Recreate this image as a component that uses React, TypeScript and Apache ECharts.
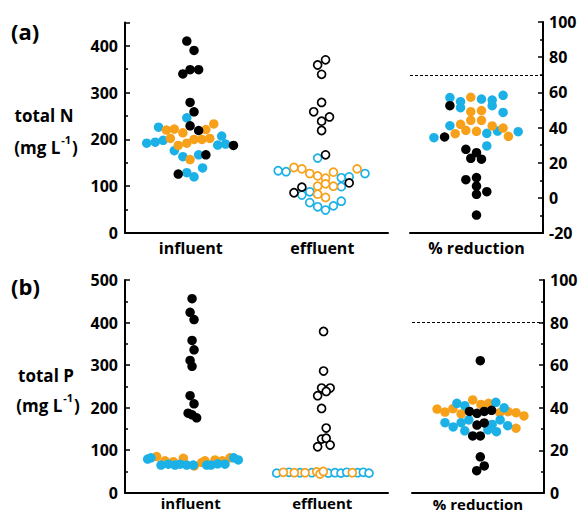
import React, { useEffect, useRef } from "react";
import * as echarts from "echarts";

// ---------- data ----------
// Panel (a): total N (mg/L) and % reduction
const aInfBlack = [410, 390, 340, 349, 349, 279, 259, 229, 219, 187, 167, 126];
const aInfBlackJit = [-0.06, 0.05, -0.12, -0.01, 0.12, -0.01, 0.05, -0.01, 0.12, 0.65, 0.23, -0.19];
const aInfBlue = [246, 226, 192, 194, 198, 207, 188, 190, 176, 163, 167, 129, 139, 120];
const aInfBlueJit = [-0.06, -0.49, -0.67, -0.54, -0.42, 0.47, 0.41, 0.53, -0.25, -0.12, 0.12, -0.06, 0.18, 0.05];
const aInfOrange = [220, 222, 214, 233, 221, 202, 187, 192, 200, 200, 202, 157];
const aInfOrangeJit = [-0.37, -0.25, -0.12, 0.35, 0.23, -0.31, -0.19, -0.06, 0.05, 0.17, 0.29, -0.01];

const aEffBlack = [370, 359, 339, 279, 259, 248, 239, 219, 167, 107, 98, 86];
const aEffBlackJit = [0.05, -0.07, -0.01, -0.01, -0.13, 0.11, -0.01, -0.01, 0.05, 0.41, -0.31, -0.43];
const aEffBlue = [160, 133, 131, 127, 118, 120, 99, 81, 88, 65, 56, 49, 58, 68];
const aEffBlueJit = [-0.07, -0.67, -0.55, 0.65, 0.29, 0.41, 0.29, -0.31, -0.19, -0.19, -0.07, 0.05, 0.17, 0.29];
const aEffOrange = [140, 137, 127, 122, 117, 130, 137, 100, 105, 100, 83, 76];
const aEffOrangeJit = [-0.43, -0.31, -0.19, -0.07, 0.05, 0.17, 0.53, -0.07, 0.05, 0.17, -0.07, 0.05];

const aRedBlue = [57, 54.7, 51.3, 56.2, 55.6, 52.4, 58.3, 48.6, 41, 34.2, 36.7, 38, 37.6, 29.5];
const aRedBlueJit = [-0.4, -0.24, -0.24, 0.075, 0.236, 0.236, 0.4, 0.4, -0.4, -0.64, 0.155, 0.316, 0.627, 0.155];
const aRedOrange = [57.2, 49, 49.6, 44.1, 44.1, 41.8, 40.9, 39.7, 36.5, 38.4, 37.8, 35];
const aRedOrangeJit = [-0.086, -0.086, 0.075, -0.086, 0.075, -0.24, 0.236, 0.4, -0.32, -0.16, 0, 0.48];
const aRedBlack = [52.4, 34.6, 27.6, 25.7, 22.5, 22, 10.3, 11.5, 6.7, 2, 3.5, -9.8];
const aRedBlackJit = [-0.4, -0.48, -0.16, 0, -0.086, 0.075, -0.16, 0, 0, 0, 0.155, 0];

// Panel (b): total P (mg/L) and % reduction
const bInfBlack = [456, 424, 407, 358, 336, 311, 297, 228, 209, 187, 183, 176];
const bInfBlackJit = [0.02, -0.01, 0.05, 0.02, 0.05, -0.01, 0.02, -0.01, 0.05, -0.04, 0.02, 0.09];
const bInfBlue = [79, 82, 65, 67, 65, 67, 65, 65, 65, 65, 68, 67, 82, 77];
const bInfBlueJit = [-0.655, -0.605, -0.452, -0.341, -0.24, -0.163, -0.062, 0.039, 0.243, 0.308, 0.41, 0.521, 0.653, 0.723];
const bInfOrange = [85, 75, 73, 81, 63, 71, 75, 77, 75, 82];
const bInfOrangeJit = [-0.518, -0.392, -0.265, -0.113, 0.054, 0.167, 0.217, 0.369, 0.48, 0.597];

const bEffBlack = [379, 286, 246, 246, 238, 228, 198, 152, 126, 128, 108, 112];
const bEffBlackJit = [0.02, 0.02, -0.01, 0.12, 0.06, -0.07, -0.01, 0.06, -0.01, 0.06, -0.07, 0.12];
const bEffBlue = [46, 48, 47, 47, 46, 47, 46, 48, 47, 48, 46];
const bEffBlueJit = [-0.693, -0.506, -0.338, -0.16, 0.092, 0.194, 0.285, 0.372, 0.539, 0.624, 0.711];
const bEffOrange = [48, 47, 47, 49, 44, 50, 47];
const bEffOrangeJit = [-0.592, -0.425, -0.262, -0.084, -0.034, 0.016, 0.457];

const bRedOrange = [39.4, 38, 39.6, 37.1, 43.7, 41.6, 42.1, 37.7, 38.2, 37.7, 36.2, 30.4];
const bRedOrangeJit = [-0.62, -0.5, -0.38, -0.256, -0.08, 0.045, 0.16, 0.33, 0.456, 0.576, 0.696, 0.576];
const bRedBlue = [42.1, 41, 42.6, 40, 33, 31, 33, 34.3, 29.2, 32.2, 34.3, 29.6, 28.8, 31.6];
const bRedBlueJit = [-0.32, -0.2, 0.27, 0.396, -0.5, -0.376, -0.256, -0.14, -0.2, 0.215, 0.335, 0.15, 0.28, 0.45];
const bRedBlack = [62.1, 38.3, 37.4, 38.3, 38.8, 31.9, 32.9, 26.8, 26.8, 17, 10.5, 12.7];
const bRedBlackJit = [0.035, -0.13, -0.015, 0.095, 0.206, -0.015, 0.095, -0.08, 0.035, 0.035, -0.02, 0.095];

const leftCats = ["influent", "effluent"]; // at x = 1 and x = 3
const rightCat = "% reduction"; // at x = 0
const targetA = 70;
const targetB = 80;

const BLUE = "#1cb1e6";
const ORANGE = "#f7a11a";
const BLACK = "#000000";
const FONT = "Open Sans";

function pts(vals: number[], jit: number[], center: number) {
  return vals.map((v, i) => [center + jit[i], v]);
}

function sc(
  vals: number[],
  jit: number[],
  center: number,
  axis: number,
  color: string,
  filled: boolean,
  extra: any = {}
) {
  return {
    type: "scatter",
    xAxisIndex: axis,
    yAxisIndex: axis,
    data: pts(vals, jit, center),
    symbol: "circle",
    symbolSize: filled ? 9.5 : 8,
    itemStyle: filled
      ? { color, borderWidth: 0, opacity: 1 }
      : { color: "#ffffff", borderColor: color, borderWidth: 1.7, opacity: 1 },
    emphasis: { disabled: true },
    z: 3,
    ...extra,
  };
}

const tickLbl = { color: "#000", fontFamily: FONT, fontWeight: "bold", fontSize: 16 };

function yAx(grid: number, min: number, max: number, interval: number, pos: "left" | "right") {
  return {
    type: "value",
    gridIndex: grid,
    position: pos,
    min,
    max,
    interval,
    axisLine: { show: true, onZero: false, lineStyle: { color: "#000", width: 2 } },
    axisTick: { show: true, inside: true, length: 5, lineStyle: { color: "#000", width: 1.5 } },
    minorTick: { show: true, splitNumber: 2, length: 3, lineStyle: { color: "#000", width: 1.5 } },
    splitLine: { show: false },
    axisLabel: {
      ...tickLbl,
      margin: pos === "left" ? 7 : 6,
      showMaxLabel: max % interval === 0,
      formatter: (v: number) => (v % interval === 0 ? String(v) : ""),
    },
  };
}

function xAx(grid: number, min: number, max: number, labels: Record<string, string>, margin: number, size: number) {
  return {
    type: "value",
    gridIndex: grid,
    min,
    max,
    interval: 1,
    axisLine: { show: true, onZero: false, lineStyle: { color: "#000", width: 2 } },
    axisTick: { show: false },
    splitLine: { show: false },
    axisLabel: {
      ...tickLbl,
      fontSize: size,
      margin,
      lineHeight: size,
      showMinLabel: true,
      showMaxLabel: true,
      formatter: (v: number) => labels[String(v)] || "",
    },
  };
}

export default function App() {
  const ref = useRef<HTMLDivElement>(null);
  useEffect(() => {
    if (!ref.current) return;
    const chart = echarts.init(ref.current, undefined, { renderer: "svg" });
    const dashed = (y: number) => ({
      silent: true,
      symbol: "none",
      label: { show: false },
      lineStyle: { type: [3, 2], color: "#000", width: 1 },
      data: [{ yAxis: y }],
    });
    const leftLabels = { "1": leftCats[0], "3": leftCats[1] };
    const rightLabels = { "0": rightCat };
    const lbl = (text: string, x: number, y: number) => ({
      type: "text",
      x,
      y,
      style: {
        text,
        fill: "#000",
        font: `bold 17px '${FONT}'`,
        align: "center",
        verticalAlign: "middle",
      },
    });
    const unit = (x: number, y: number) => ({
      type: "text",
      x,
      y,
      style: {
        text: "{a|(mg L}{s|-1}{a|)}",
        align: "center",
        verticalAlign: "middle",
        rich: {
          a: { fontFamily: FONT, fontWeight: "bold", fontSize: 17, fill: "#000", lineHeight: 22, verticalAlign: "bottom" },
          s: { fontFamily: FONT, fontWeight: "bold", fontSize: 11, fill: "#000", lineHeight: 22, verticalAlign: "top", padding: [0, 1, 8, 1] },
        },
      },
    });
    const option: any = {
      animation: false,
      backgroundColor: "#ffffff",
      grid: [
        { left: 125, top: 22.4, width: 263, height: 210.6 },
        { left: 410, top: 22, width: 133, height: 211 },
        { left: 125, top: 280, width: 263, height: 212.7 },
        { left: 412, top: 280, width: 132, height: 213 },
      ],
      xAxis: [
        xAx(0, 0, 4, leftLabels, 7, 16),
        xAx(1, -1, 1, rightLabels, 7, 16),
        xAx(2, 0, 4, leftLabels, 3, 15),
        xAx(3, -1, 1, rightLabels, 3, 15),
      ],
      yAxis: [
        yAx(0, 0, 450, 100, "left"),
        yAx(1, -20, 100, 20, "right"),
        yAx(2, 0, 500, 100, "left"),
        yAx(3, 0, 100, 20, "right"),
      ],
      graphic: [
        { type: "text", x: 11, y: 31, style: { text: "(a)", fill: "#000", font: `bold 22px '${FONT}'`, verticalAlign: "middle" } },
        { type: "text", x: 11, y: 286, style: { text: "(b)", fill: "#000", font: `bold 22px '${FONT}'`, verticalAlign: "middle" } },
        lbl("total N", 44, 115),
        unit(46, 145),
        lbl("total P", 46, 375),
        unit(48, 403),
      ],
      series: [
        // (a) influent
        sc(aInfBlue, aInfBlueJit, 1, 0, BLUE, true),
        sc(aInfOrange, aInfOrangeJit, 1, 0, ORANGE, true),
        sc(aInfBlack, aInfBlackJit, 1, 0, BLACK, true),
        // (a) effluent
        sc(aEffBlue, aEffBlueJit, 3, 0, BLUE, false),
        sc(aEffOrange, aEffOrangeJit, 3, 0, ORANGE, false),
        sc(aEffBlack, aEffBlackJit, 3, 0, BLACK, false),
        // (a) % reduction
        sc(aRedBlue, aRedBlueJit, 0, 1, BLUE, true, { markLine: dashed(targetA) }),
        sc(aRedOrange, aRedOrangeJit, 0, 1, ORANGE, true),
        sc(aRedBlack, aRedBlackJit, 0, 1, BLACK, true),
        // (b) influent
        sc(bInfOrange, bInfOrangeJit, 1, 2, ORANGE, true),
        sc(bInfBlue, bInfBlueJit, 1, 2, BLUE, true),
        sc(bInfBlack, bInfBlackJit, 1, 2, BLACK, true),
        // (b) effluent
        sc(bEffBlue, bEffBlueJit, 3, 2, BLUE, false),
        sc(bEffOrange, bEffOrangeJit, 3, 2, ORANGE, false),
        sc(bEffBlack, bEffBlackJit, 3, 2, BLACK, false),
        // (b) % reduction
        sc(bRedOrange, bRedOrangeJit, 0, 3, ORANGE, true, { markLine: dashed(targetB) }),
        sc(bRedBlue, bRedBlueJit, 0, 3, BLUE, true),
        sc(bRedBlack, bRedBlackJit, 0, 3, BLACK, true),
      ],
    };
    chart.setOption(option);
    return () => chart.dispose();
  }, []);
  return (
    <div
      ref={ref}
      style={{ position: "fixed", left: 0, top: 0, width: 581, height: 514, background: "#fff" }}
    />
  );
}
